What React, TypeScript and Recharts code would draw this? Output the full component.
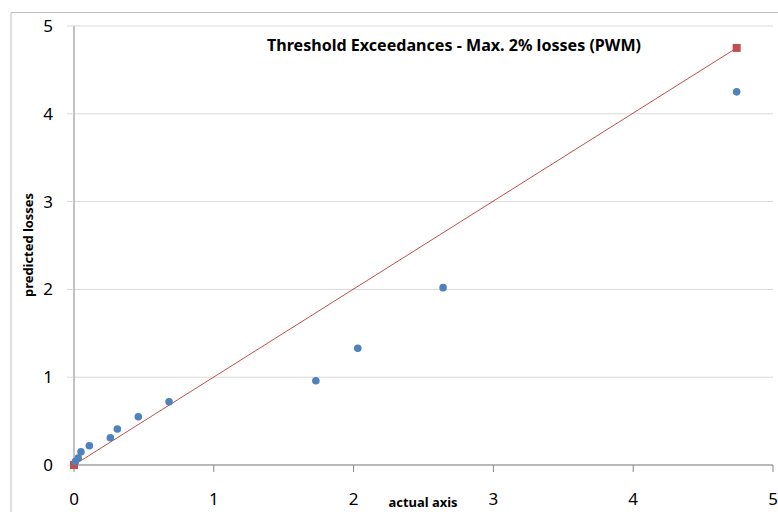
import React from 'react';
import { ScatterChart, Scatter, XAxis, YAxis, CartesianGrid } from 'recharts';

const actualValues = [0.01, 0.03, 0.05, 0.11, 0.26, 0.31, 0.46, 0.68, 1.73, 2.03, 2.64, 4.74];
const predictedValues = [0.04, 0.08, 0.15, 0.22, 0.31, 0.41, 0.55, 0.72, 0.96, 1.33, 2.02, 4.25];
const refX = [0, 4.74];
const refY = [0, 4.75];
const xTicks = [0, 1, 2, 3, 4, 5];
const yTicks = [0, 1, 2, 3, 4, 5];

const points = actualValues.map((x, i) => ({ x, y: predictedValues[i] }));
const refPoints = refX.map((x, i) => ({ x, y: refY[i] }));

const BLUE = '#4F81BD';
const RED = '#C0504D';
const FONT = '"Noto Sans", "Open Sans", sans-serif';

const Dot = (p: any) => <circle cx={p.cx} cy={p.cy} r={3.8} fill={BLUE} />;
const Sq = (p: any) => <rect x={p.cx - 4} y={p.cy - 4} width={8} height={8} fill={RED} />;

export default function App() {
  return (
    <div style={{ position: 'absolute', left: 0, top: 0, width: 778, height: 512, background: '#fff' }}>
      <ScatterChart width={778} height={512} margin={{ top: 26, right: 5, bottom: 0, left: 0 }}>
        <CartesianGrid vertical={false} stroke="#d9d9d9" />
        <XAxis
          type="number"
          dataKey="x"
          domain={[0, 5]}
          ticks={xTicks}
          height={47}
          tickSize={7}
          tickMargin={21}
          axisLine={{ stroke: '#868686' }}
          tickLine={{ stroke: '#868686' }}
          tick={{ fill: '#000', fontSize: 17, fontFamily: FONT }}
          interval={0}
        />
        <YAxis
          type="number"
          dataKey="y"
          domain={[0, 5]}
          ticks={yTicks}
          width={74}
          tickSize={7}
          tickMargin={14}
          axisLine={{ stroke: '#868686' }}
          tickLine={{ stroke: '#d9d9d9' }}
          tick={{ fill: '#000', fontSize: 17, fontFamily: FONT }}
          interval={0}
        />
        <Scatter data={refPoints} line={{ stroke: RED, strokeWidth: 1 }} shape={Sq} isAnimationActive={false} />
        <Scatter data={points} shape={Dot} isAnimationActive={false} />
      </ScatterChart>
      <svg width={778} height={512} style={{ position: 'absolute', left: 0, top: 0, pointerEvents: 'none' }}>
        <line x1={11} y1={12.5} x2={778} y2={12.5} stroke="#bfbfbf" strokeWidth={1} />
        <line x1={11} y1={12.5} x2={11} y2={512} stroke="#bfbfbf" strokeWidth={1} />
        <text x={454} y={51} textAnchor="middle" fontFamily={FONT} fontWeight="bold" fontSize={16}
          textLength={374} lengthAdjust="spacingAndGlyphs">Threshold Exceedances - Max. 2% losses (PWM)</text>
        <text x={423} y={507} textAnchor="middle" fontFamily={FONT} fontWeight="bold" fontSize={13}
          textLength={69} lengthAdjust="spacingAndGlyphs">actual axis</text>
        <text x={33} y={245} transform="rotate(-90 33 245)" textAnchor="middle" fontFamily={FONT} fontWeight="bold" fontSize={13}
          textLength={104} lengthAdjust="spacingAndGlyphs">predicted losses</text>
      </svg>
    </div>
  );
}
